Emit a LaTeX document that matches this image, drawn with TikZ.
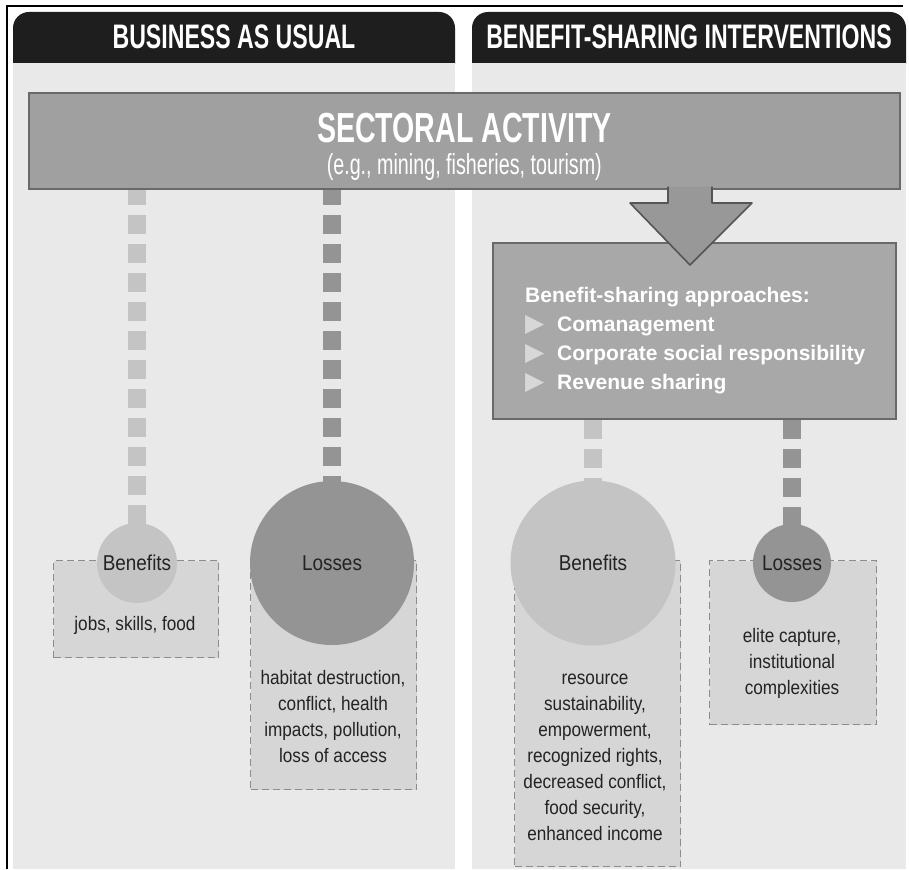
\documentclass[tikz,border=0pt]{standalone}
\usepackage{fontspec}
\setmainfont{Liberation Sans}
\newfontfamily\narrowsans[FakeStretch=0.88]{Liberation Sans}
\newfontfamily\headsans[FakeStretch=0.68]{Liberation Sans}
\newfontfamily\symsans{DejaVu Sans}
\usetikzlibrary{positioning,calc}

\definecolor{panelgray}{RGB}{233,233,233}
\definecolor{tabblack}{RGB}{30,30,30}
\definecolor{boxgray}{RGB}{160,160,160}
\definecolor{apgray}{RGB}{168,168,168}
\definecolor{edgegray}{RGB}{105,105,105}
\definecolor{arrowgray}{RGB}{152,152,152}
\definecolor{arrowedge}{RGB}{85,85,85}
\definecolor{gaingray}{RGB}{196,196,196}
\definecolor{lossgray}{RGB}{148,148,148}
\definecolor{notegray}{RGB}{214,214,214}
\definecolor{dashgray}{RGB}{140,140,140}
\definecolor{trigray}{RGB}{215,215,215}
\definecolor{inkgray}{RGB}{35,35,35}

% bullet for the list of approaches
\newcommand{\aptri}{\makebox[32pt][l]{{\symsans\fontsize{25}{25}\selectfont\color{trigray}▶}}}

\begin{document}
\begin{tikzpicture}[x=1pt, y=-1pt, every node/.style={inner sep=0pt},
    tabfill/.style={fill=tabblack, rounded corners=16pt},
    panelfill/.style={fill=panelgray},
    headtext/.style={text=white, font=\headsans\bfseries\fontsize{34}{34}\selectfont},
    bigbox/.style={draw=edgegray, line width=1.6pt, fill=boxgray, anchor=north west},
    bigtitle/.style={text=white, font=\headsans\bfseries\fontsize{42}{42}\selectfont},
    bigsub/.style={text=white, font=\headsans\fontsize{29}{29}\selectfont},
    aptext/.style={text=white, align=left, font=\bfseries\fontsize{21}{29}\selectfont},
    fatarrow/.style={fill=arrowgray, draw=arrowedge, line width=1.6pt, line join=round},
    gaincircle/.style={circle, fill=gaingray, text=inkgray, font=\narrowsans\fontsize{21.5}{21.5}\selectfont},
    losscircle/.style={circle, fill=lossgray, text=inkgray, font=\narrowsans\fontsize{21.5}{21.5}\selectfont},
    notebox/.style={draw=dashgray, fill=notegray, line width=1.4pt, dash pattern=on 7pt off 4pt, anchor=north west},
    notetext/.style={align=center, text=inkgray, font=\narrowsans\fontsize{19.5}{26}\selectfont},
    gainlink/.style={draw=gaingray, line width=18pt, dash pattern=on 19pt off 10pt, dash phase=4pt},
    losslink/.style={draw=lossgray, line width=18pt, dash pattern=on 19pt off 10pt, dash phase=4pt}]

  \fill[white] (0,0) rectangle (909,869);
  \useasboundingbox (0,0) rectangle (909,869);

  % two columns with their header tabs
  \fill[tabfill] (13,12) rectangle (455,80);
  \fill[tabfill] (472,12) rectangle (906,80);
  \fill[panelfill] (13,63) rectangle (455,869);
  \fill[panelfill] (472,63) rectangle (906,869);
  \node[headtext] (bauhead) at (234,37) {BUSINESS AS USUAL};
  \node[headtext] (bsihead) at (689,37) {BENEFIT-SHARING INTERVENTIONS};
  \draw[line width=2pt] (7,869) -- (7,6) -- (903,6);

  % activity box across both columns
  \node[bigbox, minimum width=871pt, minimum height=96pt] (sector) at (28,92) {};
  \node[bigtitle] (sectitle) at ([yshift=13pt]sector.center) {SECTORAL ACTIVITY};
  \node[bigsub] (secsub) at ([yshift=-26pt]sector.center) {(e.g., mining, fisheries, tourism)};

  % approaches box
  \node[bigbox, fill=apgray, minimum width=403pt, minimum height=176pt] (approach) at (492,242) {};
  \node[aptext, anchor=north west] (aplist) at ([xshift=33pt, yshift=-45pt]approach.north west)
    {Benefit-sharing approaches:\\
     \aptri Comanagement\\
     \aptri Corporate social responsibility\\
     \aptri Revenue sharing};

  \coordinate (arrowtip) at (690,265);
  \filldraw[fatarrow] (668,186.5) -- (668,203) -- (630,203) -- (arrowtip)
    -- (752,203) -- (712,203) -- (712,186.5);

  % outcome boxes
  \node[notebox, minimum width=165pt, minimum height=97pt] (baugainnote) at (53,560) {};
  \node[notebox, minimum width=166pt, minimum height=229pt] (baulossnote) at (250,560) {};
  \node[notebox, minimum width=166pt, minimum height=306pt] (bsigainnote) at (514,560) {};
  \node[notebox, minimum width=167pt, minimum height=164pt] (bsilossnote) at (709,560) {};

  % outcome circles
  \node[gaincircle, minimum size=80pt] (baugain) at (137,563) {Benefits};
  \node[losscircle, minimum size=164pt] (bauloss) at (332,563) {Losses};
  \node[gaincircle, minimum size=165pt] (bsigain) at (593,563) {Benefits};
  \node[losscircle, minimum size=78pt] (bsiloss) at (792,563) {Losses};

  % links
  \draw[gainlink] (sector.south -| baugain) -- ([yshift=-4pt]baugain.north);
  \draw[losslink] (sector.south -| bauloss) -- ([yshift=-4pt]bauloss.north);
  \draw[gainlink, dash phase=0pt] (approach.south -| bsigain) -- ([yshift=-4pt]bsigain.north);
  \draw[losslink, dash phase=0pt] (approach.south -| bsiloss) -- ([yshift=-4pt]bsiloss.north);

  \node[notetext] (baugaintext) at (135,625) {jobs, skills, food};
  \node[notetext] (baulosstext) at (333,717) {habitat destruction,\\ conflict, health\\ impacts, pollution,\\ loss of access};
  \node[notetext] (bsigaintext) at (595,757) {resource\\ sustainability,\\ empowerment,\\ recognized rights,\\ decreased conflict,\\ food security,\\ enhanced income};
  \node[notetext] (bsilosstext) at (792,663) {elite capture,\\ institutional\\ complexities};
\end{tikzpicture}
\end{document}
